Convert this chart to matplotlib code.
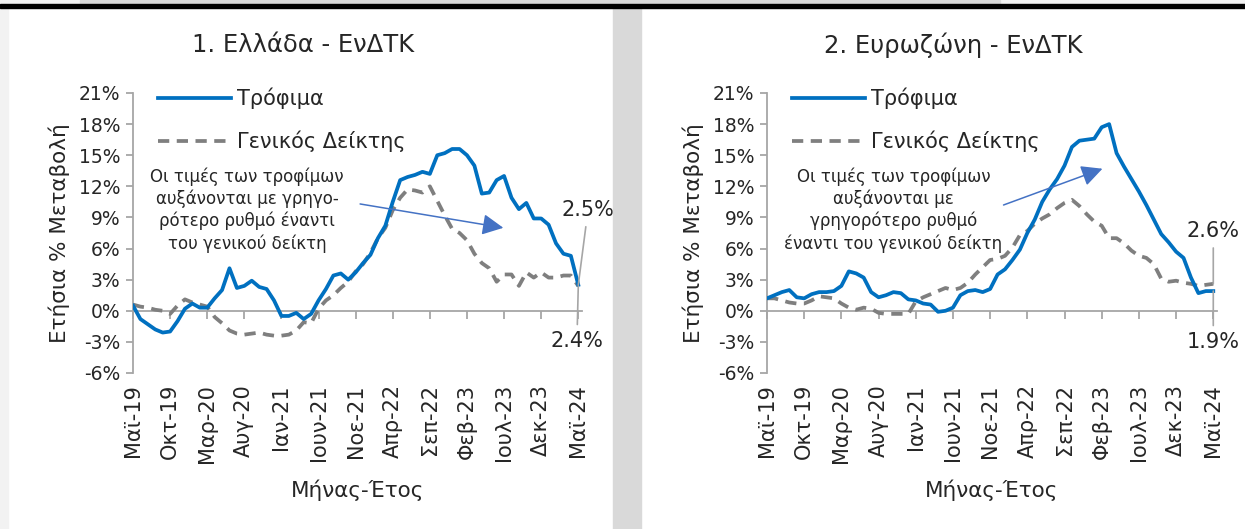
import matplotlib
matplotlib.use("Agg")
import matplotlib.pyplot as plt
from matplotlib.patches import Rectangle
import numpy as np

plt.rcParams['font.family'] = ['DejaVu Sans']

# μηνιαίες τιμές Μάιος 2019 - Μάιος 2024 (ετήσια % μεταβολή)
gr_food = [0.5, -0.8, -1.3, -1.8, -2.1, -2.0, -1.0, 0.2, 0.7, 0.3,
           0.3, 1.2, 2.0, 4.1, 2.2, 2.4, 2.9, 2.3, 2.1, 1.0,
           -0.5, -0.5, -0.2, -0.8, -0.3, 1.0, 2.1, 3.4, 3.6, 3.0,
           3.7, 4.6, 5.4, 7.0, 8.2, 10.5, 12.6, 12.9, 13.1, 13.4,
           13.2, 15.0, 15.2, 15.6, 15.6, 15.0, 14.0, 11.3, 11.4, 12.6,
           13.0, 10.9, 9.8, 10.4, 8.9, 8.9, 8.3, 6.5, 5.5, 5.3, 2.5]
gr_general = [0.6, 0.4, 0.3, 0.1, 0.0, -0.3, 0.5, 1.1, 0.8, 0.6,
              0.4, -0.6, -1.2, -1.9, -2.2, -2.3, -2.2, -2.1, -2.3, -2.4,
              -2.4, -2.3, -1.9, -1.1, -1.2, 0.2, 1.0, 1.5, 2.2, 2.8,
              3.8, 4.5, 5.6, 7.0, 8.0, 9.7, 10.9, 11.7, 11.6, 11.4,
              12.0, 10.6, 9.2, 7.9, 7.5, 6.8, 5.5, 4.6, 4.1, 2.8,
              3.5, 3.5, 2.4, 3.7, 3.2, 3.7, 3.2, 3.2, 3.4, 3.4, 2.4]
ea_food = [1.2, 1.5, 1.8, 2.0, 1.3, 1.2, 1.6, 1.8, 1.8, 1.9,
           2.4, 3.8, 3.6, 3.2, 1.8, 1.3, 1.5, 1.8, 1.7, 1.1,
           1.0, 0.7, 0.6, -0.1, 0.0, 0.3, 1.5, 1.9, 2.0, 1.8,
           2.1, 3.5, 4.0, 4.9, 5.9, 7.5, 8.8, 10.5, 11.7, 12.7,
           14.0, 15.8, 16.4, 16.5, 16.6, 17.7, 18.0, 15.2, 13.9, 12.7,
           11.5, 10.2, 8.8, 7.4, 6.6, 5.7, 5.1, 3.2, 1.7, 1.9, 1.9]
ea_general = [1.2, 1.2, 1.0, 0.8, 0.7, 0.7, 1.0, 1.4, 1.3, 1.2,
              0.7, 0.3, 0.1, 0.3, 0.2, -0.2, -0.3, -0.3, -0.3, -0.3,
              0.9, 1.3, 1.6, 1.9, 2.2, 2.0, 2.2, 2.7, 3.5, 4.2,
              4.9, 5.0, 5.3, 6.1, 7.3, 7.7, 8.4, 8.9, 9.3, 9.9,
              10.4, 10.7, 10.1, 9.3, 8.6, 8.2, 7.0, 7.0, 6.5, 5.8,
              5.3, 5.1, 4.5, 3.1, 2.8, 2.9, 2.7, 2.6, 2.4, 2.5, 2.6]

tick_labels = ["Μαϊ-19", "Οκτ-19", "Μαρ-20", "Αυγ-20", "Ιαν-21", "Ιουν-21", "Νοε-21",
               "Απρ-22", "Σεπ-22", "Φεβ-23", "Ιουλ-23", "Δεκ-23", "Μαϊ-24"]
yticks = [-6, -3, 0, 3, 6, 9, 12, 15, 18, 21]

BLUE = "#0070c0"
GREY = "#7f7f7f"
AXC = "#a6a6a6"
TXT = "#262626"
ARROW = "#4472c4"


def draw_panel(ax, food, general, title_x, title, note, note_xy, arrow_from, arrow_to,
               food_lab, gen_lab, food_off, gen_off):
    x = np.arange(len(food))
    l1, = ax.plot(x, food, color=BLUE, lw=2.7, solid_joinstyle='round', zorder=3)
    l2, = ax.plot(x, general, color=GREY, lw=2.7, dashes=(3, 2), zorder=2)
    ax.set_xlim(0, 60.5)
    ax.set_ylim(-6, 21)
    ax.set_yticks(yticks)
    ax.set_yticklabels(["%d%%" % v for v in yticks])
    ax.set_xticks(np.arange(0, 61, 5))
    ax.set_xticklabels(tick_labels, rotation=90)
    for s in ["top", "right", "bottom"]:
        ax.spines[s].set_visible(False)
    ax.spines["left"].set_color(AXC)
    ax.spines["left"].set_linewidth(1.3)
    ax.tick_params(axis="y", colors=AXC, labelcolor=TXT, labelsize=13.5, length=5, width=1.3, pad=4)
    ax.tick_params(axis="x", length=0, labelcolor=TXT, labelsize=15, pad=8)

    # άξονας x στο μηδέν
    sec = ax.secondary_xaxis(6 / 27)
    sec.set_xticks(np.arange(0, 61, 5))
    sec.tick_params(labelbottom=False, length=6, width=1.3, color=AXC, direction="out")
    sec.spines["bottom"].set_color(AXC)
    sec.spines["bottom"].set_linewidth(1.3)

    ax.set_ylabel("Ετήσια % Μεταβολή", fontsize=15.5, color=TXT)
    ax.yaxis.set_label_coords(-0.14, 0.5)
    ax.set_xlabel("Μήνας-Έτος", fontsize=15.5, color=TXT)
    ax.xaxis.set_label_coords(0.5, -0.418)
    ax.xaxis.label.set_va("center")

    ax.legend([l1, l2], ["Τρόφιμα", "Γενικός Δείκτης"], loc="upper left",
              bbox_to_anchor=(0.055, 1.02), frameon=False, fontsize=15,
              handlelength=3.5, handletextpad=0.3, labelspacing=1.05,
              borderpad=0, borderaxespad=0, labelcolor=TXT)

    ax.text(note_xy[0], note_xy[1], note, ha="center", va="top", fontsize=12,
            color=TXT, linespacing=1.25)
    ax.annotate("", xy=arrow_to, xytext=arrow_from,
                arrowprops=dict(arrowstyle="-|>", color=ARROW, lw=1.1,
                                mutation_scale=32, shrinkA=0, shrinkB=0))

    n = len(food) - 1
    ax.annotate(food_lab, xy=(n, food[-1]), xytext=food_off, textcoords="offset points",
                ha="center", va="center", fontsize=15, color=TXT,
                arrowprops=dict(arrowstyle="-", color=AXC, lw=1.2, shrinkA=3, shrinkB=0))
    ax.annotate(gen_lab, xy=(n, general[-1]), xytext=gen_off, textcoords="offset points",
                ha="center", va="center", fontsize=15, color=TXT,
                arrowprops=dict(arrowstyle="-", color=AXC, lw=1.2, shrinkA=3, shrinkB=0))

    fig.text(title_x, 1 - 45 / 529, title, ha="center", va="center", fontsize=17.5, color=TXT)


fig = plt.figure(figsize=(12.45, 5.29), dpi=100)
W, H = 1245, 529

# φόντο και πλαίσια
fig.patches.append(Rectangle((0, 1 - 5 / H), 1, 5 / H, transform=fig.transFigure, color="#f2f2f2", zorder=0))
fig.patches.append(Rectangle((80 / W, 1 - 5 / H), 920 / W, 5 / H, transform=fig.transFigure, color="#d9d9d9", zorder=0))
fig.patches.append(Rectangle((0, 1 - 7.5 / H), 1, 3 / H, transform=fig.transFigure, color="black", zorder=1))
fig.patches.append(Rectangle((0, 0), 8 / W, 1 - 7.5 / H, transform=fig.transFigure, color="#f2f2f2", zorder=0))
fig.patches.append(Rectangle((613 / W, 0), 28 / W, 1 - 7.5 / H, transform=fig.transFigure, color="#d9d9d9", zorder=0))

ax1 = fig.add_axes([133 / W, 1 - 373 / H, 449 / W, 280 / H])
ax2 = fig.add_axes([767 / W, 1 - 373 / H, 450 / W, 280 / H])
for a in (ax1, ax2):
    a.set_facecolor("none")

draw_panel(ax1, gr_food, gr_general, 303 / W, "1. Ελλάδα - ΕνΔΤΚ",
           "Οι τιμές των τροφίμων\nαυξάνονται με γρηγο-\nρότερο ρυθμό έναντι\nτου γενικού δείκτη",
           (15.4, 13.8), (30.6, 10.3), (49.9, 8.0),
           "2.5%", "2.4%", (7, 54), (-1, -40))
draw_panel(ax2, ea_food, ea_general, 953 / W, "2. Ευρωζώνη - ΕνΔΤΚ",
           "Οι τιμές των τροφίμων\nαυξάνονται με\nγρηγορότερο ρυθμό\nέναντι του γενικού δείκτη",
           (17.0, 13.8), (31.8, 10.2), (45.1, 13.7),
           "1.9%", "2.6%", (0, -37), (0, 38))

fig.savefig("out.png", dpi=100)
